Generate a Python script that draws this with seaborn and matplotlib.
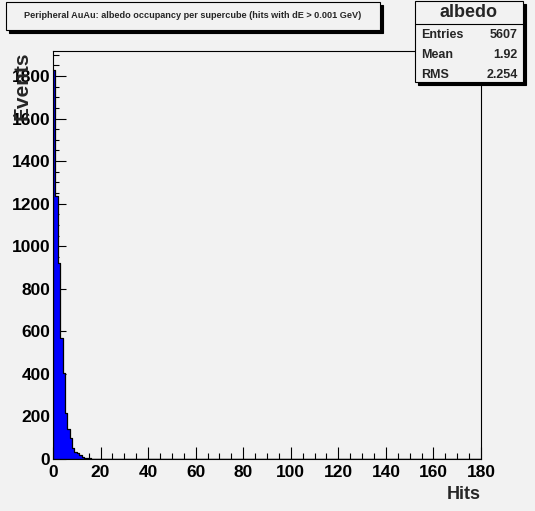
"""
Albedo occupancy per supercube - ROOT style histogram redrawn with seaborn.
"""

import numpy as np
import pandas as pd
import matplotlib
matplotlib.use("Agg")
import matplotlib.pyplot as plt
import seaborn as sns
from matplotlib.patches import Rectangle
from matplotlib.ticker import MultipleLocator

HIST_NAME = "albedo"
TITLE = "Peripheral AuAu: albedo occupancy per supercube (hits with dE > 0.001 GeV)"
X_LABEL = "Hits"
Y_LABEL = "Events"

# 1-hit wide bins from 0 to 180, counts (rest are empty)
HIT_RANGE = (0, 180)
HIT_COUNTS = [1826, 1235, 922, 570, 405, 218, 142, 100, 52, 34, 26, 18, 10, 6, 4, 3, 2, 1, 1]

STAT_NAMES = ["Entries", "Mean", "RMS"]
STAT_VALUES = ["5607", "1.92", "2.254"]

BG = "#f2f2f2"
W, H = 535, 511


def fx(px):
    return px / W


def fy(py):
    return 1 - py / H


def draw_box(fig, x0, y0, x1, y1, shadow=3):
    # box with a black drop shadow, in pixel coords (top-left origin)
    fig.add_artist(Rectangle((fx(x0 + shadow), fy(y1 + shadow)), fx(x1 - x0), (y1 - y0) / H,
                             transform=fig.transFigure, facecolor="black", edgecolor="black", lw=0.8))
    fig.add_artist(Rectangle((fx(x0), fy(y1)), fx(x1 - x0), (y1 - y0) / H,
                             transform=fig.transFigure, facecolor=BG, edgecolor="black", lw=0.8))


sns.set_theme(style="ticks")
plt.rcParams["font.family"] = ["Liberation Sans", "DejaVu Sans"]
plt.rcParams["font.weight"] = "bold"

fig = plt.figure(figsize=(W / 100, H / 100), dpi=100, facecolor=BG)
ax = fig.add_axes([fx(53), fy(459), fx(481 - 53), (459 - 51) / H])
ax.set_facecolor(BG)

df = pd.DataFrame({
    "hits": np.arange(len(HIT_COUNTS)) + 0.5,
    "events": HIT_COUNTS,
})
sns.histplot(
    data=df,
    x="hits",
    weights="events",
    binwidth=1,
    binrange=HIT_RANGE,
    element="step",
    fill=True,
    color="#0000ff",
    alpha=1,
    edgecolor="black",
    linewidth=0.9,
    ax=ax,
)

ax.set_xlim(*HIT_RANGE)
ax.set_ylim(0, max(HIT_COUNTS) * 1.05)

ax.xaxis.set_major_locator(MultipleLocator(20))
ax.xaxis.set_minor_locator(MultipleLocator(5))
ax.yaxis.set_major_locator(MultipleLocator(200))
ax.yaxis.set_minor_locator(MultipleLocator(50))
ax.tick_params(which="both", direction="in", top=False, right=False, width=0.8, colors="black")
ax.tick_params(which="major", length=9, labelsize=12.5)
ax.tick_params(axis="x", which="major", pad=4)
ax.tick_params(axis="y", which="major", pad=2)
ax.tick_params(which="minor", length=4.5)
for lab in ax.get_xticklabels() + ax.get_yticklabels():
    lab.set_fontweight("bold")

for side in ax.spines.values():
    side.set_linewidth(0.8)
    side.set_color("black")

ax.set_xlabel(X_LABEL, loc="right", fontsize=13, fontweight="bold")
ax.xaxis.set_label_coords(1.0, -0.066)
ax.set_ylabel(Y_LABEL, loc="top", fontsize=15, fontweight="bold")
ax.yaxis.set_label_coords(-0.05, 1.0)

# title box
draw_box(fig, 6, 2, 380, 30)
fig.text(fx(193), fy(16), TITLE, ha="center", va="center", fontsize=6.6, fontweight="bold")

# stats box
draw_box(fig, 415, 1, 523, 82)
fig.add_artist(plt.Line2D([fx(415), fx(523)], [fy(24), fy(24)], transform=fig.transFigure,
                          color="black", lw=0.8))
fig.text(fx(469), fy(12.5), HIST_NAME, ha="center", va="center", fontsize=13, fontweight="bold")
for i, (name, val) in enumerate(zip(STAT_NAMES, STAT_VALUES)):
    y = 34.5 + 20 * i
    fig.text(fx(421), fy(y), name, ha="left", va="center", fontsize=9, fontweight="bold")
    fig.text(fx(518), fy(y), val, ha="right", va="center", fontsize=9, fontweight="bold")

fig.savefig("out.png", dpi=100, facecolor=BG)
